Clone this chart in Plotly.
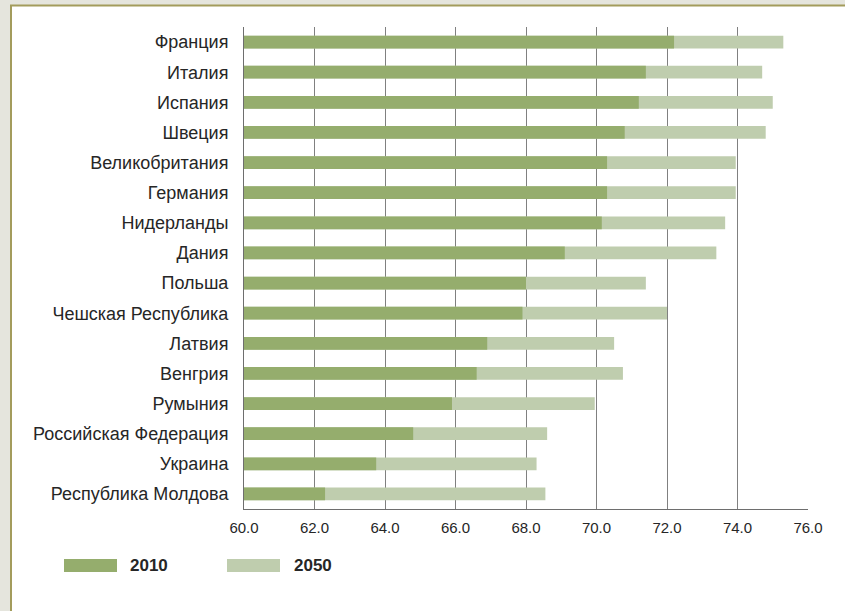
import plotly.graph_objects as go

categories = ["Франция", "Италия", "Испания", "Швеция", "Великобритания", "Германия",
              "Нидерланды", "Дания", "Польша", "Чешская Республика", "Латвия", "Венгрия",
              "Румыния", "Российская Федерация", "Украина", "Республика Молдова"]
values_2010 = [72.2, 71.4, 71.2, 70.8, 70.3, 70.3, 70.15, 69.1, 68.0, 67.9, 66.9, 66.6,
               65.9, 64.8, 63.75, 62.3]
values_2050 = [75.3, 74.7, 75.0, 74.8, 73.95, 73.95, 73.65, 73.4, 71.4, 72.0, 70.5, 70.75,
               69.95, 68.6, 68.3, 68.55]
series_names = ["2010", "2050"]
tick_vals = [60, 62, 64, 66, 68, 70, 72, 74, 76]
tick_text = ["60.0", "62.0", "64.0", "66.0", "68.0", "70.0", "72.0", "74.0", "76.0"]

C2010 = "#95ad6d"
C2050 = "#bfcdae"
TXT = "#262626"
FONT = "Liberation Sans"

W, H = 845, 611
L, R, T, B = 244, 37, 27, 102
pw, ph = W - L - R, H - T - B


def px(x):
    return (x - L) / pw


def py(y):
    return (H - B - y) / ph


fig = go.Figure()
fig.add_trace(go.Bar(y=categories, x=values_2050, orientation="h", name=series_names[1],
                     marker=dict(color=C2050, line=dict(width=0)), width=0.42))
fig.add_trace(go.Bar(y=categories, x=values_2010, orientation="h", name=series_names[0],
                     marker=dict(color=C2010, line=dict(width=0)), width=0.42))

shapes = [
    dict(type="rect", xref="paper", yref="paper", layer="below",
         x0=px(11), x1=px(1000), y0=py(900), y1=py(5.5),
         fillcolor="white", line=dict(color="#a39c5c", width=2)),
]
annotations = []
legend_items = [(series_names[0], C2010, 64, 117, 128), (series_names[1], C2050, 227, 280, 292)]
for name, col, x0, x1, tx in legend_items:
    shapes.append(dict(type="rect", xref="paper", yref="paper", x0=px(x0), x1=px(x1),
                       y0=py(572), y1=py(559), fillcolor=col, line=dict(width=0)))
    annotations.append(dict(xref="paper", yref="paper", x=px(tx), y=py(565.5), text="<b>" + name + "</b>",
                            showarrow=False, xanchor="left", yanchor="middle",
                            font=dict(family=FONT, size=17, color=TXT)))

fig.update_layout(
    width=W, height=H,
    margin=dict(l=L, r=R, t=T, b=B, pad=0),
    paper_bgcolor="#e5e5dd",
    plot_bgcolor="white",
    barmode="overlay",
    showlegend=False,
    shapes=shapes,
    annotations=annotations,
    font=dict(family=FONT, size=15, color=TXT),
    xaxis=dict(range=[60, 76], tickvals=tick_vals, ticktext=tick_text, showgrid=True,
               gridcolor="#808080", gridwidth=1, zeroline=False, showline=True,
               linecolor="#6e6e6e", linewidth=1, ticks="", ticklabelstandoff=5,
               tickfont=dict(family=FONT, size=15, color=TXT)),
    yaxis=dict(autorange="reversed", showline=True, linecolor="#6e6e6e", linewidth=1,
               showgrid=False, ticks="", ticklabelstandoff=11,
               tickfont=dict(family=FONT, size=18, color=TXT)),
)

fig.write_html("out.html")
